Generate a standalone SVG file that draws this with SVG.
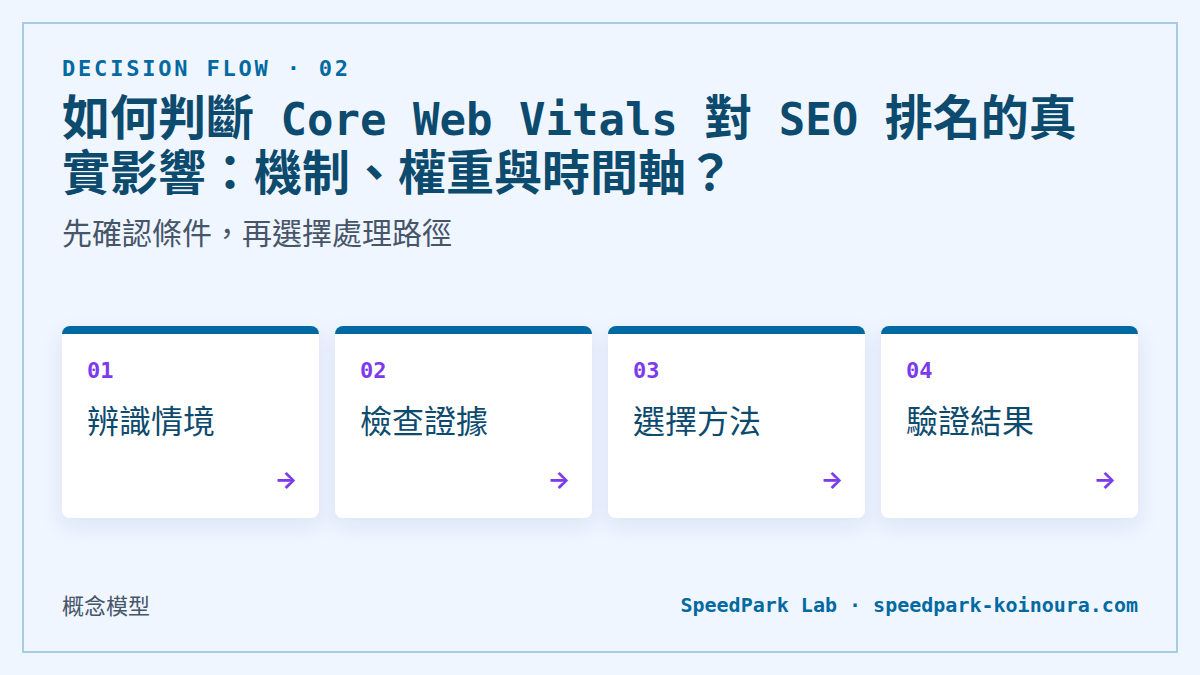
<svg xmlns="http://www.w3.org/2000/svg" width="1200" height="675" viewBox="0 0 1200 675">
<defs>
<filter id="sh" x="-20%" y="-20%" width="140%" height="160%">
<feDropShadow dx="0" dy="8" stdDeviation="10" flood-color="#1e3a8a" flood-opacity="0.09"/>
</filter>
<style>
.mono{font-family:"DejaVu Sans Mono","Noto Sans CJK TC",monospace;font-weight:700}
.sans{font-family:"Noto Sans","Noto Sans CJK TC",sans-serif}
.card{fill:#ffffff}
.bar{fill:#0369a1}
.num{font-size:22px;fill:#7c3aed}
.lbl{font-size:32px;fill:#0c4a6e}
.arr{font-family:Inter,"Noto Sans CJK TC",sans-serif;font-weight:700;font-size:24px;fill:#7c3aed}
</style>
<clipPath id="cc"><rect x="0" y="0" width="257" height="192" rx="8"/></clipPath>
</defs>
<rect width="1200" height="675" fill="#eff6ff"/>
<rect x="23" y="23" width="1154" height="629" fill="none" stroke="#a7cbe0" stroke-width="2"/>
<g id="header">
<text x="62" y="76" class="mono" font-size="22" fill="#0369a1" letter-spacing="2.8">DECISION FLOW · 02</text>
<text class="mono" font-size="44" fill="#0c4a6e"><tspan x="62" y="135" font-size="48">如何判斷</tspan><tspan> Core Web Vitals </tspan><tspan font-size="48">對</tspan><tspan> SEO </tspan><tspan font-size="48">排名的真</tspan><tspan x="62" y="190" font-size="48">實影響：機制、權重與時間軸？</tspan></text>
<text x="62" y="244" class="sans" font-size="30" fill="#475569">先確認條件，再選擇處理路徑</text>
</g>
<g id="card1" transform="translate(62,326)">
<g filter="url(#sh)"><g clip-path="url(#cc)"><rect class="card" width="257" height="192"/><rect class="bar" width="257" height="8"/></g></g>
<text x="25" y="52" class="mono num">01</text>
<text x="25" y="107" class="sans lbl">辨識情境</text>
<text x="235.5" y="162" text-anchor="end" class="arr">→</text>
</g>
<g id="card2" transform="translate(335,326)">
<g filter="url(#sh)"><g clip-path="url(#cc)"><rect class="card" width="257" height="192"/><rect class="bar" width="257" height="8"/></g></g>
<text x="25" y="52" class="mono num">02</text>
<text x="25" y="107" class="sans lbl">檢查證據</text>
<text x="235.5" y="162" text-anchor="end" class="arr">→</text>
</g>
<g id="card3" transform="translate(608,326)">
<g filter="url(#sh)"><g clip-path="url(#cc)"><rect class="card" width="257" height="192"/><rect class="bar" width="257" height="8"/></g></g>
<text x="25" y="52" class="mono num">03</text>
<text x="25" y="107" class="sans lbl">選擇方法</text>
<text x="235.5" y="162" text-anchor="end" class="arr">→</text>
</g>
<g id="card4" transform="translate(881,326)">
<g filter="url(#sh)"><g clip-path="url(#cc)"><rect class="card" width="257" height="192"/><rect class="bar" width="257" height="8"/></g></g>
<text x="25" y="52" class="mono num">04</text>
<text x="25" y="107" class="sans lbl">驗證結果</text>
<text x="235.5" y="162" text-anchor="end" class="arr">→</text>
</g>
<g id="connectors"></g>
<g id="footer">
<text x="62" y="614" class="sans" font-size="22" fill="#475569">概念模型</text>
<text x="1138" y="612" text-anchor="end" class="mono" font-size="20" fill="#0369a1">SpeedPark Lab · speedpark-koinoura.com</text>
</g>
</svg>
